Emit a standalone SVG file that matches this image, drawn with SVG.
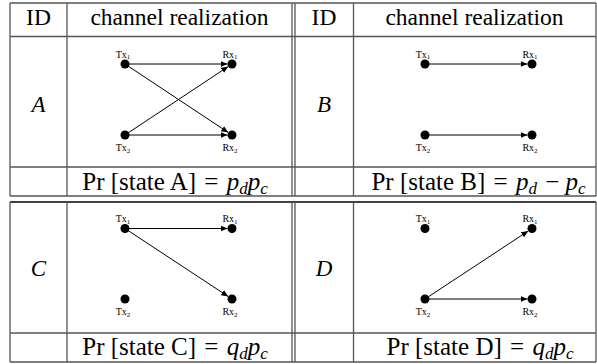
<svg xmlns="http://www.w3.org/2000/svg" width="597" height="364" viewBox="0 0 597 364">
<style>
.grid line{stroke:#555;stroke-width:1.3}
.hd{font-family:"Liberation Serif","Times New Roman",serif;font-size:23.5px;fill:#000;text-anchor:middle}
.id{font-family:"Liberation Serif","Times New Roman",serif;font-size:23px;font-style:italic;fill:#000;text-anchor:middle}
.pr{font-family:"Liberation Serif","Times New Roman",serif;font-size:25px;fill:#000;text-anchor:middle}
.it{font-style:italic}
.sb{font-style:italic;font-size:17px}
.lb{font-family:"Liberation Serif","Times New Roman",serif;font-size:10px;fill:#000;text-anchor:middle}
.dot{fill:#000}
.edge{stroke:#000;stroke-width:1;fill:none;marker-end:url(#ah)}
</style>
<defs>
<marker id="ah" markerUnits="userSpaceOnUse" markerWidth="8" markerHeight="6" refX="7" refY="3" orient="auto">
<path d="M0,0 L7,3 L0,6 z" fill="#000"/>
</marker>
</defs>
<rect width="597" height="364" fill="#fff"/>
<g id="grid" class="grid">
<line x1="10" y1="3" x2="596" y2="3"/>
<line x1="10" y1="36.5" x2="596" y2="36.5"/>
<line x1="10" y1="167" x2="596" y2="167"/>
<line x1="10" y1="196" x2="596" y2="196"/>
<line x1="10" y1="3" x2="10" y2="196"/>
<line x1="67" y1="3" x2="67" y2="196"/>
<line x1="292" y1="3" x2="292" y2="196"/>
<line x1="295" y1="3" x2="295" y2="196"/>
<line x1="353.5" y1="3" x2="353.5" y2="196"/>
<line x1="596" y1="3" x2="596" y2="196"/>
<line x1="10" y1="202" x2="596" y2="202" style="stroke:#000;stroke-width:1.6"/>
<line x1="10" y1="333" x2="596" y2="333"/>
<line x1="10" y1="362" x2="596" y2="362"/>
<line x1="10" y1="202" x2="10" y2="362"/>
<line x1="67" y1="202" x2="67" y2="362"/>
<line x1="292" y1="202" x2="292" y2="362"/>
<line x1="295" y1="202" x2="295" y2="362"/>
<line x1="353.5" y1="202" x2="353.5" y2="362"/>
<line x1="596" y1="202" x2="596" y2="362"/>
</g>
<g id="header">
<text class="hd" x="38.5" y="25">ID</text>
<text class="hd" x="179.5" y="25">channel realization</text>
<text class="hd" x="324" y="25">ID</text>
<text class="hd" x="474.5" y="25">channel realization</text>
</g>
<g id="ids">
<text class="id" x="38.5" y="112">A</text>
<text class="id" x="324" y="112">B</text>
<text class="id" x="38.5" y="276">C</text>
<text class="id" x="324" y="276">D</text>
</g>
<g id="probs">
<text class="pr" x="175" y="190">Pr [state A] <tspan dx="2">=</tspan> <tspan class="it" dx="2">p</tspan><tspan class="sb" dy="4">d</tspan><tspan class="it" dy="-4">p</tspan><tspan class="sb" dy="4">c</tspan></text>
<text class="pr" x="478.5" y="190">Pr [state B] <tspan dx="2">=</tspan> <tspan class="it" dx="2">p</tspan><tspan class="sb" dy="4">d</tspan><tspan dy="-4" dx="2"> − </tspan><tspan class="it">p</tspan><tspan class="sb" dy="4">c</tspan></text>
<text class="pr" x="175" y="355">Pr [state C] <tspan dx="2">=</tspan> <tspan class="it" dx="2">q</tspan><tspan class="sb" dy="4">d</tspan><tspan class="it" dy="-4">p</tspan><tspan class="sb" dy="4">c</tspan></text>
<text class="pr" x="480" y="355">Pr [state D] <tspan dx="2">=</tspan> <tspan class="it" dx="2">q</tspan><tspan class="sb" dy="4">d</tspan><tspan class="it" dy="-4">p</tspan><tspan class="sb" dy="4">c</tspan></text>
</g>
<g id="connectors">
<line class="edge" x1="125" y1="64" x2="227.5" y2="64"/>
<line class="edge" x1="125" y1="64" x2="228.25" y2="132.5"/>
<line class="edge" x1="125" y1="135" x2="228.25" y2="66.5"/>
<line class="edge" x1="125" y1="135" x2="227.5" y2="135"/>
<line class="edge" x1="425" y1="64" x2="527.5" y2="64"/>
<line class="edge" x1="425" y1="135" x2="527.5" y2="135"/>
<line class="edge" x1="125" y1="228.5" x2="227.5" y2="228.5"/>
<line class="edge" x1="125" y1="228.5" x2="228.25" y2="296.5"/>
<line class="edge" x1="425" y1="299" x2="528.25" y2="231"/>
<line class="edge" x1="425" y1="299" x2="527.5" y2="299"/>
</g>
<g id="A-Tx1"><circle class="dot" cx="125" cy="64" r="4.5"/><text class="lb" x="123" y="57.5">Tx<tspan font-size="7" dy="1.5">1</tspan></text></g>
<g id="A-Rx1"><circle class="dot" cx="232" cy="64" r="4.5"/><text class="lb" x="230" y="57.5">Rx<tspan font-size="7" dy="1.5">1</tspan></text></g>
<g id="A-Tx2"><circle class="dot" cx="125" cy="135" r="4.5"/><text class="lb" x="123" y="151">Tx<tspan font-size="7" dy="1.5">2</tspan></text></g>
<g id="A-Rx2"><circle class="dot" cx="232" cy="135" r="4.5"/><text class="lb" x="230" y="151">Rx<tspan font-size="7" dy="1.5">2</tspan></text></g>
<g id="B-Tx1"><circle class="dot" cx="425" cy="64" r="4.5"/><text class="lb" x="423" y="57.5">Tx<tspan font-size="7" dy="1.5">1</tspan></text></g>
<g id="B-Rx1"><circle class="dot" cx="532" cy="64" r="4.5"/><text class="lb" x="530" y="57.5">Rx<tspan font-size="7" dy="1.5">1</tspan></text></g>
<g id="B-Tx2"><circle class="dot" cx="425" cy="135" r="4.5"/><text class="lb" x="423" y="151">Tx<tspan font-size="7" dy="1.5">2</tspan></text></g>
<g id="B-Rx2"><circle class="dot" cx="532" cy="135" r="4.5"/><text class="lb" x="530" y="151">Rx<tspan font-size="7" dy="1.5">2</tspan></text></g>
<g id="C-Tx1"><circle class="dot" cx="125" cy="228.5" r="4.5"/><text class="lb" x="123" y="222">Tx<tspan font-size="7" dy="1.5">1</tspan></text></g>
<g id="C-Rx1"><circle class="dot" cx="232" cy="228.5" r="4.5"/><text class="lb" x="230" y="222">Rx<tspan font-size="7" dy="1.5">1</tspan></text></g>
<g id="C-Tx2"><circle class="dot" cx="125" cy="299" r="4.5"/><text class="lb" x="123" y="315">Tx<tspan font-size="7" dy="1.5">2</tspan></text></g>
<g id="C-Rx2"><circle class="dot" cx="232" cy="299" r="4.5"/><text class="lb" x="230" y="315">Rx<tspan font-size="7" dy="1.5">2</tspan></text></g>
<g id="D-Tx1"><circle class="dot" cx="425" cy="228.5" r="4.5"/><text class="lb" x="423" y="222">Tx<tspan font-size="7" dy="1.5">1</tspan></text></g>
<g id="D-Rx1"><circle class="dot" cx="532" cy="228.5" r="4.5"/><text class="lb" x="530" y="222">Rx<tspan font-size="7" dy="1.5">1</tspan></text></g>
<g id="D-Tx2"><circle class="dot" cx="425" cy="299" r="4.5"/><text class="lb" x="423" y="315">Tx<tspan font-size="7" dy="1.5">2</tspan></text></g>
<g id="D-Rx2"><circle class="dot" cx="532" cy="299" r="4.5"/><text class="lb" x="530" y="315">Rx<tspan font-size="7" dy="1.5">2</tspan></text></g>
</svg>
